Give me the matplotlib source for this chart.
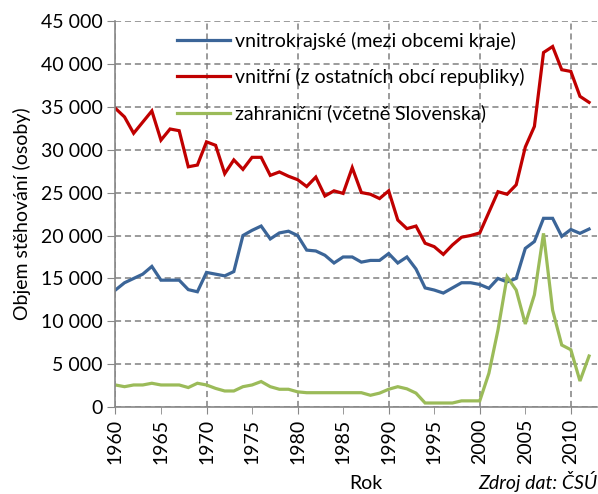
import matplotlib
matplotlib.use("Agg")
import matplotlib.pyplot as plt
from matplotlib.ticker import MultipleLocator, FuncFormatter

years = list(range(1960, 2013))

vnitrokrajske = [13650, 14500, 15000, 15500, 16400, 14800, 14800, 14800, 13700, 13450,
                 15700, 15500, 15300, 15800, 20000, 20600, 21100, 19600, 20300, 20500,
                 20000, 18300, 18200, 17700, 16800, 17500, 17500, 16900, 17100, 17100,
                 17900, 16800, 17500, 16100, 13900, 13650, 13300, 13900, 14500, 14500,
                 14300, 13850, 15000, 14600, 15000, 18500, 19300, 22000, 22000, 19900,
                 20700, 20250, 20750]

vnitrni = [34800, 33800, 31900, 33200, 34500, 31100, 32400, 32200, 28000, 28200,
           30900, 30500, 27200, 28800, 27700, 29100, 29100, 27000, 27400, 26900,
           26500, 25700, 26800, 24600, 25200, 24900, 27900, 25000, 24800, 24300,
           25200, 21800, 20800, 21100, 19100, 18700, 17800, 18900, 19800, 20000,
           20300, 22700, 25100, 24800, 25900, 30300, 32700, 41300, 42000, 39300,
           39100, 36200, 35500]

zahranicni = [2600, 2400, 2600, 2600, 2800, 2600, 2600, 2600, 2300, 2800,
              2600, 2200, 1900, 1900, 2400, 2600, 3000, 2400, 2100, 2100,
              1800, 1700, 1700, 1700, 1700, 1700, 1700, 1700, 1400, 1650,
              2100, 2400, 2150, 1650, 500, 500, 500, 500, 750, 750,
              750, 3950, 9000, 15200, 13650, 9700, 13100, 20250, 11300, 7250,
              6700, 3060, 5970]

labels = ["vnitrokrajské (mezi obcemi kraje)",
          "vnitřní (z ostatních obcí republiky)",
          "zahraniční (včetně Slovenska)"]
colors = ["#3B6598", "#C00000", "#9BBB59"]

plt.rcParams['font.family'] = ['Lato', 'DejaVu Sans']
FS = 14

fig = plt.figure(figsize=(5.98, 4.94), dpi=100)
ax = fig.add_axes([0.193, 0.1755, 0.805, 0.7825])

for vals, lab, col in zip([vnitrokrajske, vnitrni, zahranicni], labels, colors):
    ax.plot(years, vals, color=col, lw=2.3, label=lab, solid_joinstyle='miter')

ax.set_xlim(1960, 2012.85)
ax.set_ylim(0, 45000)
ax.xaxis.set_major_locator(MultipleLocator(10))
ax.xaxis.set_minor_locator(MultipleLocator(5))
ax.xaxis.set_minor_formatter(FuncFormatter(lambda v, p: "%d" % v if v % 10 else ""))
ax.xaxis.set_major_formatter(FuncFormatter(lambda v, p: "%d" % v))
ax.yaxis.set_major_locator(MultipleLocator(5000))
ax.yaxis.set_major_formatter(FuncFormatter(lambda v, p: "{:,.0f}".format(v).replace(",", " ")))

ax.tick_params(axis='x', which='both', labelsize=FS, direction='out', length=5,
               color='#888888', rotation=90, pad=3)
ax.tick_params(axis='y', labelsize=FS, direction='out', length=6, color='#888888', pad=3)

ax.grid(True, which='major', axis='both', linestyle=(0, (4, 2.5)), color='#808080', lw=1.1)
ax.set_axisbelow(True)
for s in ['top', 'right']:
    ax.spines[s].set_visible(False)
for s in ['left', 'bottom']:
    ax.spines[s].set_color('#888888')
    ax.spines[s].set_linewidth(1.2)

ax.set_ylabel("Objem stěhování (osoby)", fontsize=FS, labelpad=7)
fig.text(0.612, 0.004, "Rok", fontsize=FS, ha='center', va='bottom')
fig.text(0.999, 0.004, "Zdroj dat: ČSÚ", fontsize=FS, style='italic', ha='right', va='bottom')

leg = ax.legend(loc='upper left', bbox_to_anchor=(0.128, 0.972), frameon=False,
                fontsize=FS, handlelength=2.7, handletextpad=0.3, labelspacing=0.95,
                borderpad=0, borderaxespad=0)

fig.savefig("out.png", dpi=100)
